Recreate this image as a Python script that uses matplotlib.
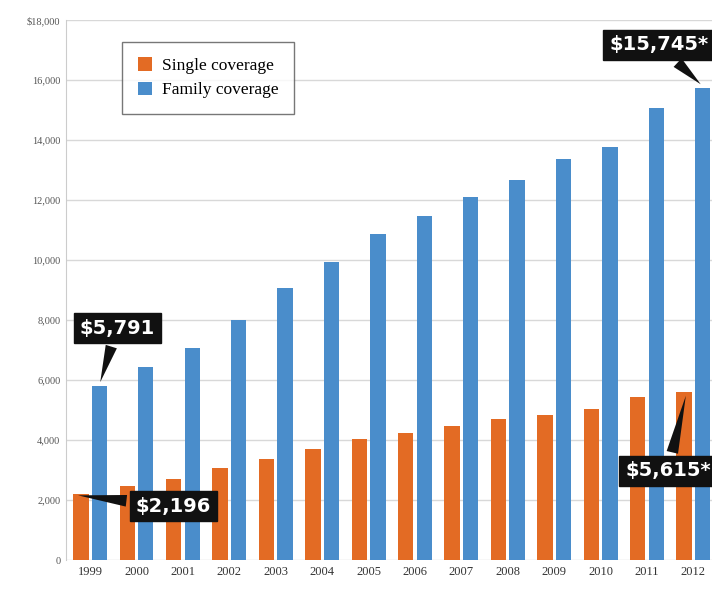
import matplotlib.pyplot as plt
import numpy as np

years = ['1999', '2000', '2001', '2002', '2003', '2004', '2005',
         '2006', '2007', '2008', '2009', '2010', '2011', '2012']
single = [2196, 2471, 2689, 3083, 3383, 3695, 4024, 4242, 4479, 4704, 4824, 5049, 5429, 5615]
family = [5791, 6438, 7061, 8003, 9068, 9950, 10880, 11480, 12106, 12680, 13375, 13770, 15073, 15745]
ytick_vals = [0, 2000, 4000, 6000, 8000, 10000, 12000, 14000, 16000, 18000]
ytick_labels = ['0', '2,000', '4,000', '6,000', '8,000', '10,000', '12,000', '14,000', '16,000', '$18,000']

orange = '#e36b24'
blue = '#4a8dcb'

fig = plt.figure(figsize=(7.12, 5.90), dpi=100)
ax = fig.add_axes([0.0927, 0.0508, 0.9073, 0.9153])

x = np.arange(len(years))
w = 0.33
ax.bar(x - 0.2, single, w, color=orange, label='Single coverage', zorder=3)
ax.bar(x + 0.2, family, w, color=blue, label='Family coverage', zorder=3)

ax.set_xlim(-0.52, 13.4)
ax.set_ylim(0, 18000)
ax.set_yticks(ytick_vals)
ax.set_yticklabels(ytick_labels, fontfamily='Liberation Serif', fontsize=7.5, color='#555555')
ax.set_xticks(x)
ax.set_xticklabels(years, fontfamily='Liberation Serif', fontsize=9, color='#333333')
ax.tick_params(length=0, pad=4)
ax.grid(axis='y', color='#d8d8d8', lw=1, zorder=0)
for s in ['top', 'right', 'bottom']:
    ax.spines[s].set_visible(False)
ax.spines['left'].set_color('#cccccc')

leg = ax.legend(loc='upper left', bbox_to_anchor=(0.087, 0.96), prop={'family': 'Liberation Serif', 'size': 12.5},
                fancybox=False, edgecolor='#555555', handlelength=0.8, handleheight=0.8,
                borderpad=0.9, labelspacing=0.45, handletextpad=0.6, borderaxespad=0)
leg.get_frame().set_linewidth(1.0)

box = dict(boxstyle='square,pad=0.3', fc='#111111', ec='#111111')
arrow = dict(arrowstyle='wedge,tail_width=0.6,shrink_factor=0.5', color='#111111', lw=0)
txt = dict(color='white', fontsize=14, fontweight='bold', fontfamily='DejaVu Sans',
           ha='center', va='center', bbox=box, annotation_clip=False, zorder=5)

ax.annotate('$5,791', xy=(0.2, family[0] + 50), xytext=(0.58, 7730), arrowprops=arrow, **txt)
ax.annotate('$2,196', xy=(-0.32, single[0] - 30), xytext=(1.79, 1800), arrowprops=arrow, **txt)
ax.annotate('$15,745*', xy=(13.2, family[-1] + 50), xytext=(12.25, 17170), arrowprops=arrow, **txt)
ax.annotate('$5,615*', xy=(12.85, single[-1] - 50), xytext=(12.45, 2970), arrowprops=arrow, **txt)

fig.savefig('out.png', dpi=100)
